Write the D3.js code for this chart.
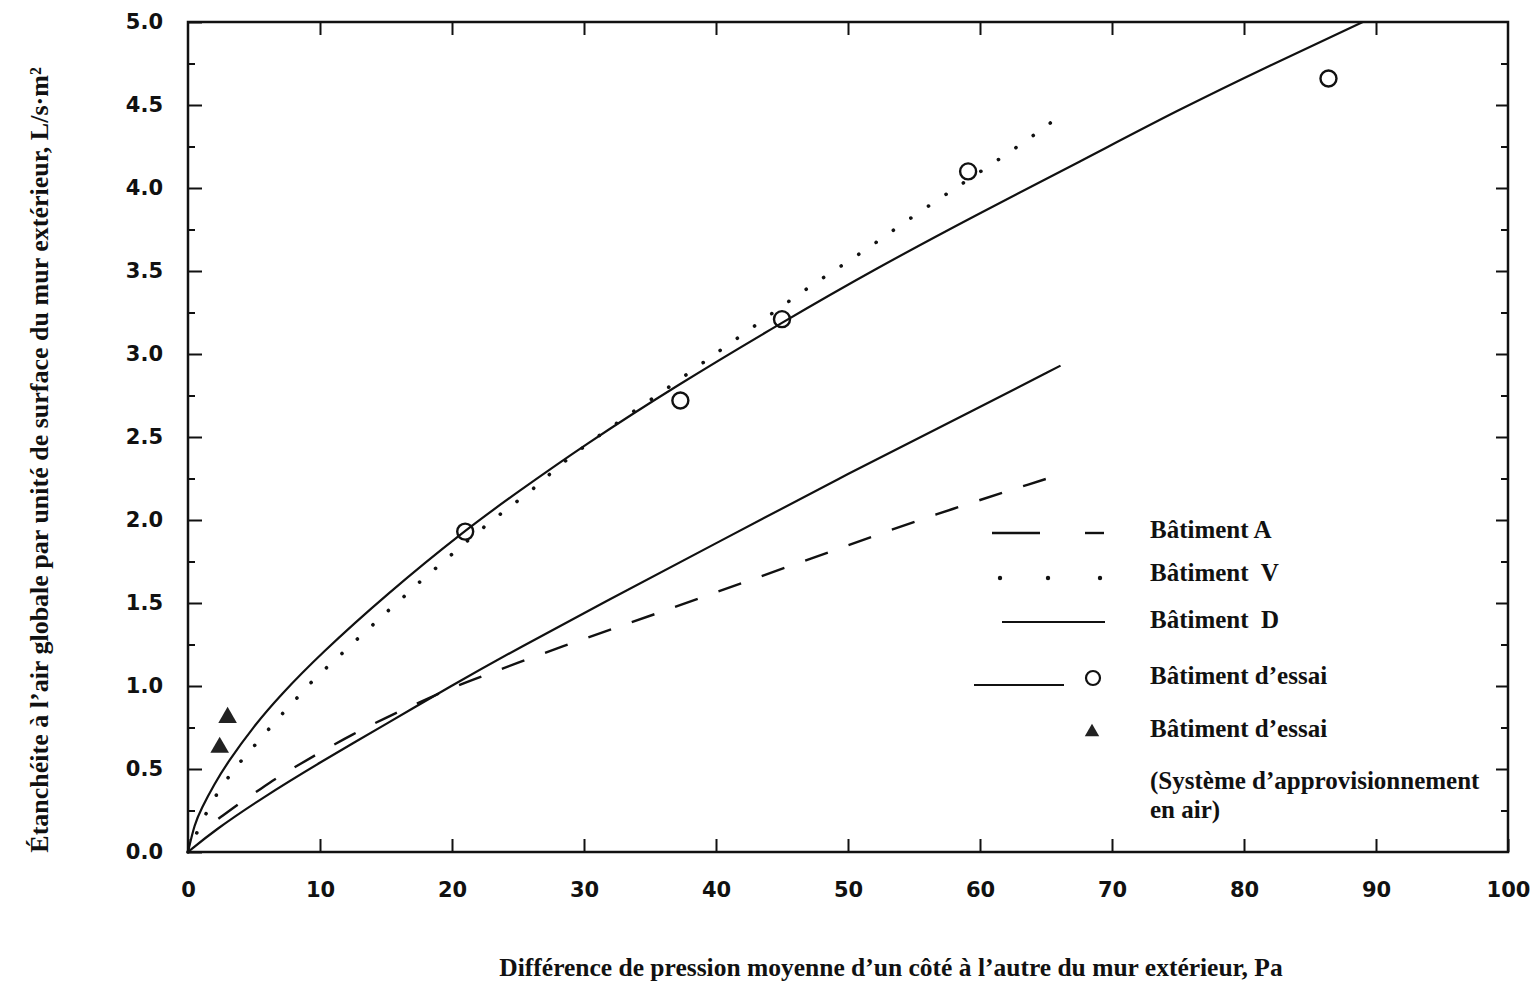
<!DOCTYPE html>
<html>
<head>
<meta charset="utf-8">
<script src="https://cdn.jsdelivr.net/npm/d3@7"></script>
<style>
  body { margin: 0; background: #fff; }
  .tick text { font-family: "DejaVu Sans", sans-serif; font-weight: bold; font-size: 21px; fill: #111; }
  .tick line { stroke: #111; stroke-width: 2; }
  .title, .legend text { font-family: "Liberation Serif", serif; font-weight: bold; fill: #111; }
</style>
</head>
<body>
<script>
const width = 1537;
const height = 992;

// Bâtiment d'essai (courbe ajustée)
const essaiX = [0, 0.5, 1, 2, 3, 5, 7, 10, 15, 21, 25, 30, 37, 45, 52, 60, 67.6, 75, 82, 89];
const essaiY = [0, 0.17, 0.26, 0.41, 0.54, 0.76, 0.945, 1.19, 1.55, 1.94, 2.17, 2.45, 2.81, 3.19, 3.51, 3.85, 4.16, 4.47, 4.74, 5.0];

// Bâtiment V (pointillé)
const vX = [0, 1.5, 2.5, 3.6, 4.7, 5.9, 7.1, 8.3, 9.5, 11.2, 12.5, 13.9, 15.1, 16.4, 17.7, 19.1, 20.5, 22.6, 23.9, 25.4, 26.8, 28.1, 32, 37, 39.9, 42.8, 45.7, 48.5, 51.4, 54.2, 57.2, 59.1, 61.4, 64.3, 65.8];
const vY = [0, 0.26, 0.39, 0.51, 0.61, 0.72, 0.83, 0.93, 1.04, 1.16, 1.26, 1.36, 1.45, 1.54, 1.64, 1.73, 1.83, 1.97, 2.05, 2.14, 2.23, 2.33, 2.56, 2.83, 3.0, 3.16, 3.33, 3.48, 3.63, 3.79, 3.95, 4.05, 4.17, 4.33, 4.42];

// Bâtiment D (trait plein)
const dX = [0, 2, 5.5, 10, 15.2, 19.7, 25.3, 31.2, 40, 50, 60, 66.1];
const dY = [0, 0.13, 0.32, 0.54, 0.78, 0.99, 1.24, 1.49, 1.86, 2.28, 2.68, 2.93];

// Bâtiment A (tirets)
const aX = [2.3, 4, 5.5, 7, 8.5, 10, 12.5, 15, 17.5, 20, 22, 25, 28.4, 32, 36, 42.3, 49.4, 56.4, 65.1];
const aY = [0.2, 0.3, 0.38, 0.46, 0.53, 0.6, 0.71, 0.81, 0.9, 0.99, 1.05, 1.14, 1.24, 1.34, 1.45, 1.63, 1.83, 2.03, 2.25];

// points mesurés
const cercleX = [21.0, 37.3, 45.0, 59.1, 86.4];
const cercleY = [1.93, 2.72, 3.21, 4.10, 4.66];
const triangleX = [2.4, 3.0];
const triangleY = [0.63, 0.81];

const xTicks = [0, 10, 20, 30, 40, 50, 60, 70, 80, 90, 100];
const yTicks = [0, 0.5, 1, 1.5, 2, 2.5, 3, 3.5, 4, 4.5, 5];
const yMinor = [0.25, 0.75, 1.25, 1.75, 2.25, 2.75, 3.25, 3.75, 4.25, 4.75];

const legendLabels = ["Bâtiment A", "Bâtiment  V", "Bâtiment  D", "Bâtiment d’essai", "Bâtiment d’essai"];

const x = d3.scaleLinear().domain([0, 100]).range([188, 1508]);
const y = d3.scaleLinear().domain([0, 5]).range([852, 22]);

const svg = d3.select('body').append('svg')
  .attr('width', width)
  .attr('height', height);

const zip = (xs, ys) => xs.map((v, i) => ({ x: v, y: ys[i] }));

const line = d3.line()
  .x(d => x(d.x))
  .y(d => y(d.y))
  .curve(d3.curveBasis);

// axes : graduations vers l'intérieur
svg.append('g')
  .attr('transform', `translate(0,${y(0)})`)
  .call(d3.axisBottom(x).tickValues(xTicks).tickFormat(d3.format('d')).tickSizeInner(-13).tickSizeOuter(0).tickPadding(30))
  .call(g => g.select('.domain').remove());

svg.append('g')
  .attr('transform', `translate(0,${y(5)})`)
  .call(d3.axisTop(x).tickValues(xTicks.slice(1, -1)).tickFormat('').tickSizeInner(-13).tickSizeOuter(0))
  .call(g => g.select('.domain').remove());

svg.append('g')
  .attr('transform', `translate(${x(0)},0)`)
  .call(d3.axisLeft(y).tickValues(yTicks).tickFormat(d3.format('.1f')).tickSizeInner(-14).tickSizeOuter(0).tickPadding(25))
  .call(g => g.select('.domain').remove());

svg.append('g')
  .attr('transform', `translate(${x(0)},0)`)
  .call(d3.axisLeft(y).tickValues(yMinor).tickFormat('').tickSizeInner(-7).tickSizeOuter(0))
  .call(g => g.select('.domain').remove());

svg.append('g')
  .attr('transform', `translate(${x(100)},0)`)
  .call(d3.axisRight(y).tickValues(yTicks.slice(1, -1)).tickFormat('').tickSizeInner(-12).tickSizeOuter(0))
  .call(g => g.select('.domain').remove());

svg.append('g')
  .attr('transform', `translate(${x(100)},0)`)
  .call(d3.axisRight(y).tickValues(yMinor).tickFormat('').tickSizeInner(-7).tickSizeOuter(0))
  .call(g => g.select('.domain').remove());

// cadre
svg.append('rect')
  .attr('x', x(0)).attr('y', y(5))
  .attr('width', x(100) - x(0)).attr('height', y(0) - y(5))
  .attr('fill', 'none').attr('stroke', '#111').attr('stroke-width', 2.5);

// courbes
svg.append('path').attr('d', line(zip(essaiX, essaiY)))
  .attr('fill', 'none').attr('stroke', '#111').attr('stroke-width', 2.2);

svg.append('path').attr('d', line(zip(vX, vY)))
  .attr('fill', 'none').attr('stroke', '#111').attr('stroke-width', 3.6)
  .attr('stroke-linecap', 'round').attr('stroke-dasharray', '0.1,21');

svg.append('path').attr('d', line(zip(dX, dY)))
  .attr('fill', 'none').attr('stroke', '#111').attr('stroke-width', 2.2);

svg.append('path').attr('d', line(zip(aX, aY)))
  .attr('fill', 'none').attr('stroke', '#111').attr('stroke-width', 2.4)
  .attr('stroke-dasharray', '24,22');

// points
svg.selectAll('circle.pt').data(zip(cercleX, cercleY)).enter()
  .append('circle').attr('class', 'pt')
  .attr('cx', d => x(d.x)).attr('cy', d => y(d.y)).attr('r', 8)
  .attr('fill', 'none').attr('stroke', '#111').attr('stroke-width', 2.4);

const tri = d3.symbol().type(d3.symbolTriangle).size(150);
svg.selectAll('path.tri').data(zip(triangleX, triangleY)).enter()
  .append('path').attr('class', 'tri')
  .attr('transform', d => `translate(${x(d.x)},${y(d.y)})`)
  .attr('d', tri).attr('fill', '#222');

// légende
const lg = svg.append('g').attr('class', 'legend');
const rowsY = [538, 581, 628, 684, 737];
lg.selectAll('text.lab').data(legendLabels).enter()
  .append('text').attr('class', 'lab')
  .attr('x', 1150).attr('y', (d, i) => rowsY[i])
  .attr('font-size', 25)
  .attr('xml:space', 'preserve')
  .text(d => d);
lg.append('text').attr('x', 1150).attr('y', 789).attr('font-size', 25).text('(Système d’approvisionnement');
lg.append('text').attr('x', 1150).attr('y', 818).attr('font-size', 25).text('en air)');

lg.append('line').attr('x1', 992).attr('x2', 1040).attr('y1', 533).attr('y2', 533).attr('stroke', '#111').attr('stroke-width', 2.4);
lg.append('line').attr('x1', 1085).attr('x2', 1104).attr('y1', 533).attr('y2', 533).attr('stroke', '#111').attr('stroke-width', 2.4);
[1000, 1048, 1100].forEach(cx => lg.append('circle').attr('cx', cx).attr('cy', 578).attr('r', 2.2).attr('fill', '#111'));
lg.append('line').attr('x1', 1002).attr('x2', 1105).attr('y1', 622).attr('y2', 622).attr('stroke', '#111').attr('stroke-width', 2);
lg.append('line').attr('x1', 974).attr('x2', 1064).attr('y1', 685).attr('y2', 685).attr('stroke', '#111').attr('stroke-width', 2);
lg.append('circle').attr('cx', 1093).attr('cy', 678).attr('r', 7).attr('fill', 'none').attr('stroke', '#111').attr('stroke-width', 2.2);
lg.append('path').attr('transform', 'translate(1092,732)').attr('d', d3.symbol().type(d3.symbolTriangle).size(90)).attr('fill', '#222');

// titres
svg.append('text').attr('class', 'title')
  .attr('transform', 'translate(48,460) rotate(-90)')
  .attr('text-anchor', 'middle').attr('font-size', 26)
  .text('Étanchéite à l’air globale par unité de surface du mur extérieur, L/s·m²');

svg.append('text').attr('class', 'title')
  .attr('x', 891).attr('y', 976)
  .attr('text-anchor', 'middle').attr('font-size', 25.5)
  .text('Différence de pression moyenne d’un côté à l’autre du mur extérieur, Pa');
</script>
</body>
</html>
